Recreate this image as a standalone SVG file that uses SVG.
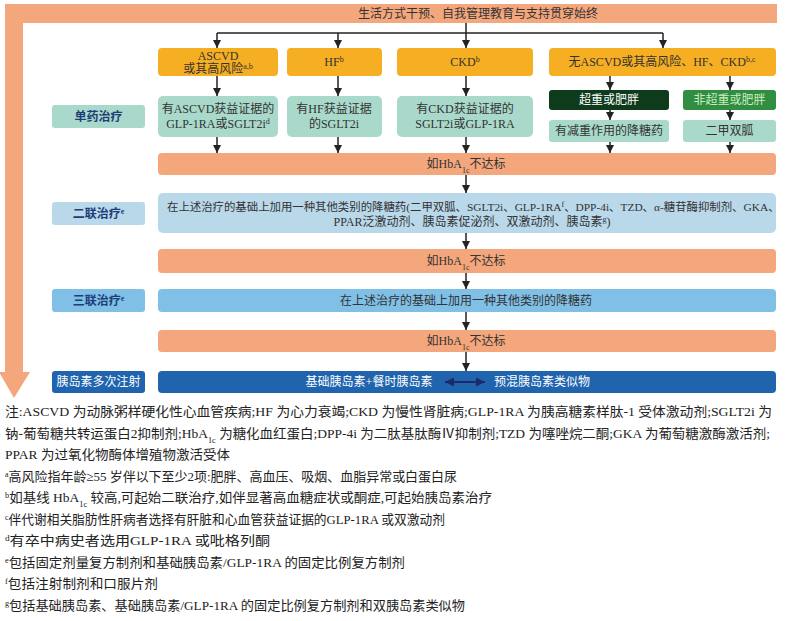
<svg xmlns="http://www.w3.org/2000/svg" width="786" height="621" viewBox="0 0 786 621">
<defs>
<marker id="ah" viewBox="0 0 10 10" refX="10" refY="5" markerWidth="8" markerHeight="8" markerUnits="userSpaceOnUse" orient="auto"><path d="M0,0 L10,5 L0,10 z" fill="#222"/></marker>
<marker id="dah" viewBox="0 0 10 10" refX="10" refY="5" markerWidth="9" markerHeight="9" markerUnits="userSpaceOnUse" orient="auto-start-reverse"><path d="M0,0 L10,5 L0,10 z" fill="#1a2a6c"/></marker>
<style>
text{font-family:"Liberation Serif","Noto Sans CJK SC",serif;}
.t{font-size:12px;fill:#333;text-anchor:middle;}
.ts{font-size:11.4px;fill:#333;}
.w{font-size:12px;fill:#fff;text-anchor:middle;}
.lb{font-size:12px;font-weight:bold;fill:#1e3c78;text-anchor:middle;}
.n{font-size:13px;fill:#222;}
.gold{fill:#f6ae22;}
.teal{fill:#a9d9ca;}
.sal{fill:#f4a67c;}
.lblue{fill:#b9d8ea;}
.mblue{fill:#80c0e6;}
.dblue{fill:#2064ae;}
.cn line{stroke:#222;stroke-width:1.5;fill:none;}
.sup{font-size:8px;}
</style>
</defs>

<g id="frame">
<path d="M5,4 H777 V23 H23 V372 H30 L14,398 L-1,372 H5 Z" fill="#f4a67c"/>
<text class="t" x="478" y="18">生活方式干预、自我管理教育与支持贯穿始终</text>
</g>

<g id="connectors" class="cn">
<line x1="466" y1="23" x2="466" y2="48" marker-end="url(#ah)"/>
<line x1="217" y1="33" x2="663" y2="33"/>
<line x1="217" y1="33" x2="217" y2="48" marker-end="url(#ah)"/>
<line x1="338" y1="33" x2="338" y2="48" marker-end="url(#ah)"/>
<line x1="663" y1="33" x2="663" y2="48" marker-end="url(#ah)"/>
<line x1="217" y1="76" x2="217" y2="96" marker-end="url(#ah)"/>
<line x1="338" y1="76" x2="338" y2="96" marker-end="url(#ah)"/>
<line x1="466" y1="76" x2="466" y2="96" marker-end="url(#ah)"/>
<line x1="610" y1="76" x2="610" y2="90" marker-end="url(#ah)"/>
<line x1="730" y1="76" x2="730" y2="90" marker-end="url(#ah)"/>
<line x1="610" y1="110" x2="610" y2="120" marker-end="url(#ah)"/>
<line x1="730" y1="110" x2="730" y2="120" marker-end="url(#ah)"/>
<line x1="217" y1="137" x2="217" y2="153" marker-end="url(#ah)"/>
<line x1="338" y1="137" x2="338" y2="153" marker-end="url(#ah)"/>
<line x1="466" y1="137" x2="466" y2="153" marker-end="url(#ah)"/>
<line x1="610" y1="142" x2="610" y2="153" marker-end="url(#ah)"/>
<line x1="730" y1="142" x2="730" y2="153" marker-end="url(#ah)"/>
<line x1="466" y1="175" x2="466" y2="193" marker-end="url(#ah)"/>
<line x1="466" y1="233" x2="466" y2="249" marker-end="url(#ah)"/>
<line x1="466" y1="273" x2="466" y2="289" marker-end="url(#ah)"/>
<line x1="466" y1="312" x2="466" y2="330" marker-end="url(#ah)"/>
<line x1="466" y1="352" x2="466" y2="371" marker-end="url(#ah)"/>
</g>

<g id="n-ascvd"><rect class="gold" x="158" y="48" width="120" height="28" rx="4"/>
<text class="t" x="218" y="60">ASCVD</text><text class="t" x="218" y="73">或其高风险<tspan class="sup" baseline-shift="super">a,b</tspan></text></g>
<g id="n-hf"><rect class="gold" x="287" y="48" width="95" height="28" rx="4"/>
<text class="t" x="334" y="66">HF<tspan class="sup" baseline-shift="super">b</tspan></text></g>
<g id="n-ckd"><rect class="gold" x="397" y="48" width="136" height="28" rx="4"/>
<text class="t" x="465" y="66">CKD<tspan class="sup" baseline-shift="super">b</tspan></text></g>
<g id="n-none"><rect class="gold" x="549" y="48" width="227" height="28" rx="4"/>
<text class="t" x="662" y="66">无ASCVD或其高风险、HF、CKD<tspan class="sup" baseline-shift="super">b,c</tspan></text></g>

<g id="lbl-mono"><rect class="teal" x="52" y="105" width="93" height="23" rx="3"/><text class="lb" x="98.5" y="121">单药治疗</text></g>
<g id="n-ascvd-drug"><rect class="teal" x="158" y="96" width="120" height="41" rx="5"/>
<text class="t" x="218" y="113">有ASCVD获益证据的</text><text class="t" x="218" y="128">GLP-1RA或SGLT2i<tspan class="sup" baseline-shift="super">d</tspan></text></g>
<g id="n-hf-drug"><rect class="teal" x="287" y="96" width="95" height="41" rx="5"/>
<text class="t" x="334" y="113">有HF获益证据</text><text class="t" x="334" y="128">的SGLT2i</text></g>
<g id="n-ckd-drug"><rect class="teal" x="397" y="96" width="136" height="41" rx="5"/>
<text class="t" x="465" y="113">有CKD获益证据的</text><text class="t" x="465" y="128">SGLT2i或GLP-1RA</text></g>
<g id="n-obese"><rect x="549" y="90" width="120" height="20" rx="3" fill="#0e3b1c"/><text class="w" x="609" y="104">超重或肥胖</text></g>
<g id="n-nonobese"><rect x="683" y="90" width="93" height="20" rx="3" fill="#2f8e3f"/><text class="w" x="729.5" y="104" style="fill:#cdebc4">非超重或肥胖</text></g>
<g id="n-weight-drug"><rect class="teal" x="549" y="120" width="120" height="22" rx="3"/><text class="t" x="609" y="135">有减重作用的降糖药</text></g>
<g id="n-metformin"><rect class="teal" x="683" y="120" width="93" height="22" rx="3"/><text class="t" x="729.5" y="135">二甲双胍</text></g>

<g id="n-hba1c-1"><rect class="sal" x="158" y="153" width="618" height="22" rx="4"/>
<text class="t" x="466" y="168">如HbA<tspan class="sup" baseline-shift="sub">1c</tspan>不达标</text></g>

<g id="lbl-dual"><rect class="lblue" x="52" y="202" width="93" height="23" rx="3"/><text class="lb" x="98.5" y="218">二联治疗<tspan class="sup" baseline-shift="super">e</tspan></text></g>
<g id="n-dual"><rect class="lblue" x="158" y="193" width="618" height="40" rx="5"/>
<text class="ts" x="167" y="211">在上述治疗的基础上加用一种其他类别的降糖药(二甲双胍、SGLT2i、GLP-1RA<tspan class="sup" baseline-shift="super">f</tspan>、DPP-4i、TZD、α-糖苷酶抑制剂、GKA、</text>
<text class="t" x="472" y="226">PPAR泛激动剂、胰岛素促泌剂、双激动剂、胰岛素<tspan class="sup" baseline-shift="super">g</tspan>)</text></g>

<g id="n-hba1c-2"><rect class="sal" x="158" y="249" width="618" height="24" rx="4"/>
<text class="t" x="466" y="265">如HbA<tspan class="sup" baseline-shift="sub">1c</tspan>不达标</text></g>

<g id="lbl-triple"><rect class="mblue" x="52" y="289" width="93" height="23" rx="3"/><text class="lb" x="98.5" y="305">三联治疗<tspan class="sup" baseline-shift="super">e</tspan></text></g>
<g id="n-triple"><rect class="mblue" x="158" y="289" width="618" height="23" rx="4"/>
<text class="t" x="466" y="305">在上述治疗的基础上加用一种其他类别的降糖药</text></g>

<g id="n-hba1c-3"><rect class="sal" x="158" y="330" width="618" height="22" rx="4"/>
<text class="t" x="466" y="345">如HbA<tspan class="sup" baseline-shift="sub">1c</tspan>不达标</text></g>

<g id="lbl-insulin"><rect class="dblue" x="52" y="371" width="93" height="22" rx="3"/><text class="w" x="98.5" y="386">胰岛素多次注射</text></g>
<g id="n-insulin"><rect class="dblue" x="158" y="371" width="618" height="22" rx="4"/>
<text class="w" x="369" y="386">基础胰岛素+餐时胰岛素</text>
<line x1="445" y1="382" x2="485" y2="382" stroke="#1a2a6c" stroke-width="2" marker-start="url(#dah)" marker-end="url(#dah)"/>
<text class="w" x="542" y="386">预混胰岛素类似物</text></g>

<g id="notes">
<text class="n" x="5" y="416" textLength="767" lengthAdjust="spacingAndGlyphs">注:ASCVD 为动脉粥样硬化性心血管疾病;HF 为心力衰竭;CKD 为慢性肾脏病;GLP-1RA 为胰高糖素样肽-1 受体激动剂;SGLT2i 为</text>
<text class="n" x="5" y="438" textLength="765" lengthAdjust="spacingAndGlyphs">钠-葡萄糖共转运蛋白2抑制剂;HbA<tspan class="sup" baseline-shift="sub">1c</tspan> 为糖化血红蛋白;DPP-4i 为二肽基肽酶Ⅳ抑制剂;TZD 为噻唑烷二酮;GKA 为葡萄糖激酶激活剂;</text>
<text class="n" x="5" y="459" textLength="225" lengthAdjust="spacingAndGlyphs">PPAR 为过氧化物酶体增殖物激活受体</text>
<text class="n" x="5" y="481" textLength="452" lengthAdjust="spacingAndGlyphs"><tspan class="sup" baseline-shift="super">a</tspan>高风险指年龄≥55 岁伴以下至少2项:肥胖、高血压、吸烟、血脂异常或白蛋白尿</text>
<text class="n" x="5" y="502" textLength="487" lengthAdjust="spacingAndGlyphs"><tspan class="sup" baseline-shift="super">b</tspan>如基线 HbA<tspan class="sup" baseline-shift="sub">1c</tspan> 较高,可起始二联治疗,如伴显著高血糖症状或酮症,可起始胰岛素治疗</text>
<text class="n" x="5" y="524" textLength="440" lengthAdjust="spacingAndGlyphs"><tspan class="sup" baseline-shift="super">c</tspan>伴代谢相关脂肪性肝病者选择有肝脏和心血管获益证据的GLP-1RA 或双激动剂</text>
<text class="n" x="5" y="545" textLength="265" lengthAdjust="spacingAndGlyphs"><tspan class="sup" baseline-shift="super">d</tspan>有卒中病史者选用GLP-1RA 或吡格列酮</text>
<text class="n" x="5" y="567" textLength="400" lengthAdjust="spacingAndGlyphs"><tspan class="sup" baseline-shift="super">e</tspan>包括固定剂量复方制剂和基础胰岛素/GLP-1RA 的固定比例复方制剂</text>
<text class="n" x="5" y="588" textLength="153" lengthAdjust="spacingAndGlyphs"><tspan class="sup" baseline-shift="super">f</tspan>包括注射制剂和口服片剂</text>
<text class="n" x="5" y="610" textLength="460" lengthAdjust="spacingAndGlyphs"><tspan class="sup" baseline-shift="super">g</tspan>包括基础胰岛素、基础胰岛素/GLP-1RA 的固定比例复方制剂和双胰岛素类似物</text>
</g>
</svg>
